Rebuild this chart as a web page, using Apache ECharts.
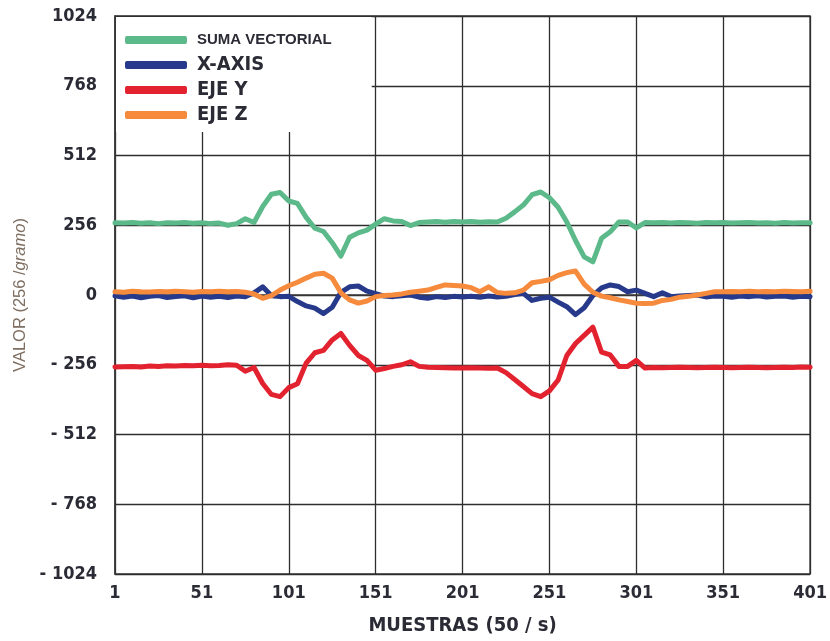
<!DOCTYPE html>
<html>
<head>
<meta charset="utf-8">
<script src="https://cdn.jsdelivr.net/npm/echarts@6/dist/echarts.min.js"></script>
<style>
html,body{margin:0;padding:0;background:#fff;}
#chart{width:830px;height:641px;}
</style>
</head>
<body>
<div id="chart"></div>
<script>
// Sample numbers (x axis: MUESTRAS)
var samples = [1,6,11,16,21,26,31,36,41,46,
  51,56,61,66,71,76,81,86,91,96,
  101,106,111,116,121,126,131,136,141,146,
  151,156,161,166,171,176,181,186,191,196,
  201,206,211,216,221,226,231,236,241,246,
  251,256,261,266,271,276,281,286,291,296,
  301,306,311,316,321,326,331,336,341,346,
  351,356,361,366,371,376,381,386,391,396,
  401];

var sumaVectorial = [265,264,266,263,265,262,265,264,266,263,
  265,262,264,256,262,280,266,325,370,376,
  345,336,285,245,233,192,143,212,228,238,
  260,280,272,270,255,266,268,270,267,270,
  268,270,267,269,268,282,305,330,368,378,
  357,322,268,200,140,122,208,232,268,268,
  246,266,265,266,264,266,265,263,266,265,
  266,264,265,266,264,265,263,266,264,265,
  265];

var xAxisVals = [-3,-8,-4,-10,-5,-2,-9,-6,-3,-10,
  -4,-8,-5,-9,-4,-6,8,30,-3,-6,
  -5,-24,-40,-48,-68,-45,10,30,33,14,
  5,-4,-6,-3,0,-8,-12,-6,-9,-5,
  -7,-5,-8,-4,-7,-5,2,6,-20,-12,
  -8,-26,-43,-72,-47,-2,26,37,31,12,
  18,6,-6,8,-6,-4,-2,0,-7,-4,
  -5,-8,-4,-6,-3,-7,-5,-4,-8,-5,
  -6];

var ejeY = [-264,-263,-262,-264,-261,-262,-260,-261,-259,-260,
  -258,-260,-259,-256,-258,-280,-266,-325,-365,-373,
  -340,-326,-250,-212,-203,-165,-141,-185,-222,-240,
  -276,-270,-262,-256,-245,-262,-265,-266,-267,-268,
  -268,-267,-268,-269,-268,-285,-310,-336,-362,-373,
  -352,-312,-222,-178,-148,-118,-210,-220,-262,-262,
  -240,-268,-266,-267,-266,-265,-266,-267,-266,-265,
  -266,-267,-266,-265,-266,-267,-266,-265,-266,-264,
  -265];

var ejeZ = [12,10,14,12,11,13,12,14,12,10,
  13,12,14,12,13,10,4,-12,-2,18,
  34,47,62,76,80,62,8,-18,-30,-22,
  -6,-2,0,4,10,14,18,28,37,35,
  33,27,12,30,9,6,8,18,45,50,
  56,72,82,88,40,10,-4,-10,-18,-24,
  -30,-31,-30,-20,-16,-8,-5,0,6,12,
  12,13,12,14,12,13,12,14,13,12,
  14];

var seriesNames = ['SUMA VECTORIAL','X-AXIS','EJE Y','EJE Z'];
var seriesColors = ['#5cb98a','#27398a','#e3222f','#f68a3d'];
var seriesValues = [sumaVectorial, xAxisVals, ejeY, ejeZ];

var FONT = "'DejaVu Sans Condensed','Liberation Sans',sans-serif";
var TXT = '#2b2b36';

function pairs(vals){
  return samples.map(function(s,i){ return [s-1, vals[i]]; });
}

var chart = echarts.init(document.getElementById('chart'), null, {renderer:'canvas'});
var option = {
  animation:false,
  backgroundColor:'#ffffff',
  grid:{left:115,right:16,top:16,bottom:67,show:true,borderColor:'#3a3a3a',borderWidth:1.5,backgroundColor:'transparent'},
  legend:{
    left:116, top:17,
    orient:'vertical',
    backgroundColor:'#ffffff',
    padding:[13,40,7,9],
    itemWidth:62, itemHeight:8, itemGap:5,
    icon:'roundRect',
    textStyle:{fontFamily:FONT,fontWeight:'bold',fontSize:20,color:TXT,lineHeight:20,padding:[0,0,0,5]},
    data:[
      {name:'SUMA VECTORIAL',textStyle:{fontFamily:"'Liberation Sans',sans-serif",fontSize:15,fontWeight:'bold',color:TXT}},
      {name:'X-AXIS'},{name:'EJE Y'},{name:'EJE Z'}
    ]
  },
  xAxis:{
    type:'value', min:0, max:400, interval:50,
    name:'MUESTRAS (50 / s)', nameLocation:'middle', nameGap:42,
    nameTextStyle:{fontFamily:FONT,fontWeight:'bold',fontSize:20,color:TXT},
    axisLine:{show:true,lineStyle:{color:'#3a3a3a',width:1.5}},
    axisTick:{show:false},
    axisLabel:{margin:10,fontFamily:FONT,fontWeight:'bold',fontSize:18,color:TXT,
      formatter:function(v){return String(v+1);}},
    splitLine:{show:true,lineStyle:{color:'#2e2e2e',width:1.3}}
  },
  yAxis:{
    type:'value', min:-1024, max:1024, interval:256,
    name:'{n|VALOR (256 /}{i|gramo}{n|)}', nameLocation:'middle', nameGap:86, nameRotate:90,
    nameTextStyle:{
      rich:{
        n:{fontFamily:"'Liberation Sans',sans-serif",fontSize:16.5,color:'#7f6f62'},
        i:{fontFamily:"'Liberation Sans',sans-serif",fontSize:16.5,fontStyle:'italic',color:'#7f6f62'}
      }
    },
    axisLine:{show:true,lineStyle:{color:'#3a3a3a',width:1.5}},
    axisTick:{show:false},
    axisLabel:{margin:18,fontFamily:FONT,fontWeight:'bold',fontSize:18,color:TXT,
      formatter:function(v){return v<0 ? '- '+(-v) : String(v);}},
    splitLine:{show:true,lineStyle:{color:'#2e2e2e',width:1.3}}
  },
  series: seriesNames.map(function(n,k){
    return {
      name:n, type:'line', data:pairs(seriesValues[k]),
      showSymbol:false, symbol:'none',
      lineStyle:{color:seriesColors[k],width:5,cap:'round',join:'round'},
      itemStyle:{color:seriesColors[k]},
      z:2+k
    };
  })
};
chart.setOption(option);
</script>
</body>
</html>
